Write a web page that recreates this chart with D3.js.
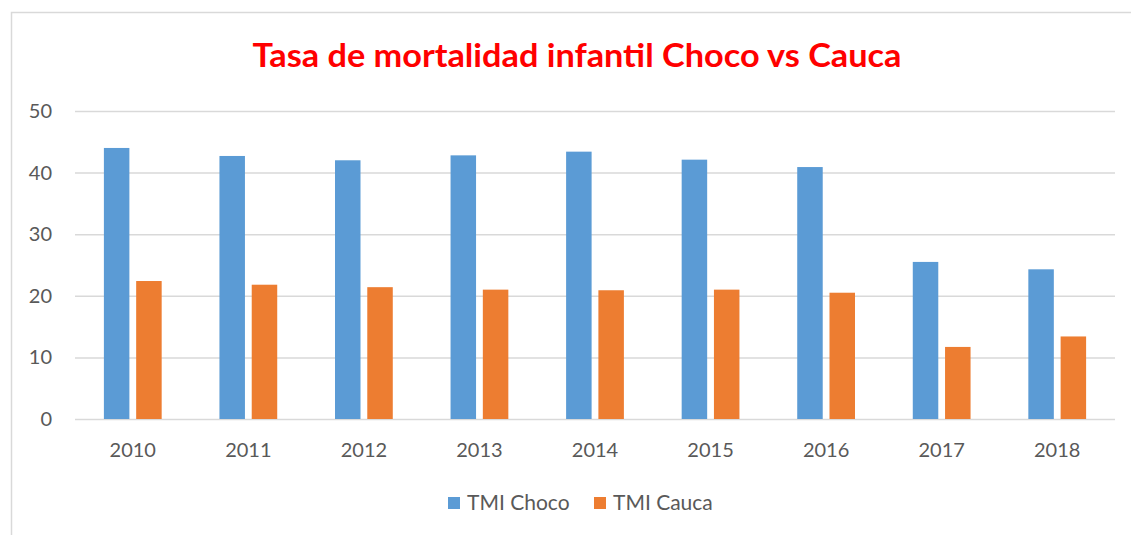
<!DOCTYPE html>
<html>
<head>
<meta charset="utf-8">
<script src="https://cdn.jsdelivr.net/npm/d3@7"></script>
<style>
  body { margin: 0; background: #fff; }
  svg { display: block; font-family: Lato, "Open Sans", sans-serif; }
</style>
</head>
<body>
<svg></svg>
<script>
// data
var years = ["2010", "2011", "2012", "2013", "2014", "2015", "2016", "2017", "2018"];
var seriesNames = ["TMI Choco", "TMI Cauca"];
var choco = [44.0, 42.7, 42.0, 42.8, 43.4, 42.1, 40.9, 25.5, 24.3];
var cauca = [22.4, 21.8, 21.4, 21.0, 20.9, 21.0, 20.5, 11.7, 13.4];
var yTicks = [0, 10, 20, 30, 40, 50];
var colors = ["#5b9bd5", "#ed7d31"];

// layout
var svgWidth = 1131, svgHeight = 535;
var margin = {top: 111, right: 16, bottom: 116, left: 75},
    width = svgWidth - margin.left - margin.right,
    height = svgHeight - margin.top - margin.bottom;

var svg = d3.select("svg").attr("width", svgWidth).attr("height", svgHeight);

// chart frame
svg.append("rect")
  .attr("x", 11.5).attr("y", 12.5)
  .attr("width", svgWidth + 20).attr("height", svgHeight + 20)
  .attr("fill", "none").attr("stroke", "#d9d9d9").attr("stroke-width", 1.5);

// title
svg.append("text")
  .attr("x", 577).attr("y", 67)
  .attr("text-anchor", "middle")
  .attr("fill", "#ff0000")
  .attr("textLength", 649).attr("lengthAdjust", "spacingAndGlyphs")
  .style("font-size", "32px").style("font-weight", "bold")
  .text("Tasa de mortalidad infantil Choco vs Cauca");

var g = svg.append("g").attr("transform", "translate(" + [margin.left, margin.top] + ")");

var x0 = d3.scaleBand().domain(years).range([0, width]).paddingInner(0.5).paddingOuter(0.25);
var x1 = d3.scaleBand().domain(seriesNames).range([0, x0.bandwidth()]).paddingInner(0.21);
var y = d3.scaleLinear().domain([0, 50]).range([height, 0]);

// gridlines
g.append("g")
  .call(d3.axisLeft(y).tickValues(yTicks).tickSize(-width).tickFormat(""))
  .call(function(s) {
    s.select(".domain").remove();
    s.selectAll("line").attr("stroke", "#d9d9d9").attr("stroke-width", 1.5);
  });

// y labels
g.append("g")
  .call(d3.axisLeft(y).tickValues(yTicks).tickSize(0).tickPadding(23))
  .call(function(s) {
    s.select(".domain").remove();
    s.selectAll("text").attr("fill", "#595959").style("font-size", "20px")
      .style("font-family", "Lato, 'Open Sans', sans-serif");
  });

// x labels
g.append("g")
  .attr("transform", "translate(0," + height + ")")
  .call(d3.axisBottom(x0).tickSize(0).tickPadding(24))
  .call(function(s) {
    s.select(".domain").remove();
    s.selectAll("text").attr("fill", "#595959").style("font-size", "20px")
      .style("font-family", "Lato, 'Open Sans', sans-serif");
  });

// bars
var rows = years.map(function(yr, i) { return {year: yr, values: [choco[i], cauca[i]]}; });

var groups = g.selectAll(".grp").data(rows).enter().append("g")
  .attr("transform", function(d) { return "translate(" + x0(d.year) + ",0)"; });

groups.selectAll("rect")
  .data(function(d) { return d.values.map(function(v, j) { return {name: seriesNames[j], value: v, j: j}; }); })
  .enter().append("rect")
  .attr("x", function(d) { return x1(d.name); })
  .attr("y", function(d) { return y(d.value); })
  .attr("width", x1.bandwidth())
  .attr("height", function(d) { return height - y(d.value); })
  .attr("fill", function(d) { return colors[d.j]; });

// legend
var legend = svg.append("g").attr("transform", "translate(448,497)");
var legendX = [0, 146];
seriesNames.forEach(function(name, i) {
  var item = legend.append("g").attr("transform", "translate(" + legendX[i] + ",0)");
  item.append("rect").attr("width", 12).attr("height", 12).attr("fill", colors[i]);
  item.append("text").attr("x", 19).attr("y", 13)
    .attr("fill", "#595959").style("font-size", "21px")
    .text(name);
});
</script>
</body>
</html>
